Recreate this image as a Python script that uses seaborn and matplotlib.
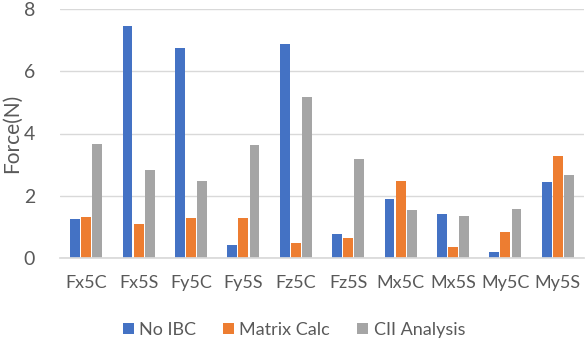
import matplotlib
matplotlib.use("Agg")
import matplotlib.pyplot as plt
import seaborn as sns
import pandas as pd

categories = ["Fx5C", "Fx5S", "Fy5C", "Fy5S", "Fz5C", "Fz5S", "Mx5C", "Mx5S", "My5C", "My5S"]
no_ibc = [1.25, 7.45, 6.76, 0.41, 6.87, 0.78, 1.90, 1.42, 0.18, 2.44]
matrix_calc = [1.33, 1.09, 1.29, 1.28, 0.47, 0.65, 2.48, 0.34, 0.83, 3.29]
cii_analysis = [3.65, 2.82, 2.48, 3.62, 5.18, 3.17, 1.53, 1.36, 1.57, 2.66]
series_names = ["No IBC", "Matrix Calc", "CII Analysis"]
y_ticks = [0, 2, 4, 6, 8]

rows = []
for name, vals in zip(series_names, [no_ibc, matrix_calc, cii_analysis]):
    for c, v in zip(categories, vals):
        rows.append({"cat": c, "series": name, "value": v})
df = pd.DataFrame(rows)

sns.set_theme(style="white")
plt.rcParams["font.family"] = ["Lato", "DejaVu Sans"]

fig = plt.figure(figsize=(5.88, 3.49), dpi=100)
ax = fig.add_axes([60 / 588, 1 - 258 / 349, 524 / 588, 249 / 349])

palette = ["#4472C4", "#ED7D31", "#A5A5A5"]
sns.barplot(data=df, x="cat", y="value", hue="series", palette=palette,
            width=0.64, gap=0.12, ax=ax, legend=True, saturation=1, linewidth=0)

ax.set_ylim(0, 8)
ax.set_yticks(y_ticks)
ax.set_xlim(-0.5, len(categories) - 0.5)
ax.yaxis.grid(True, color="#D9D9D9", linewidth=1)
ax.set_axisbelow(True)
for s in ["top", "right", "left"]:
    ax.spines[s].set_visible(False)
ax.spines["bottom"].set_color("#D9D9D9")
ax.tick_params(axis="x", length=0, labelsize=13, colors="#595959", pad=12)
ax.tick_params(axis="y", length=0, labelsize=14, colors="#595959", pad=18)
ax.set_xlabel("")
ax.set_ylabel("Force(N)", fontsize=15, color="#595959", labelpad=1)

handles, labels = ax.get_legend_handles_labels()
ax.get_legend().remove()
fig.legend(handles, labels, loc="lower center", bbox_to_anchor=(0.5, -0.015), ncol=3,
           frameon=False, fontsize=13, handlelength=0.6, handleheight=0.6,
           handletextpad=0.3, columnspacing=1.5, labelcolor="#595959")

fig.savefig("out.png", dpi=100)
